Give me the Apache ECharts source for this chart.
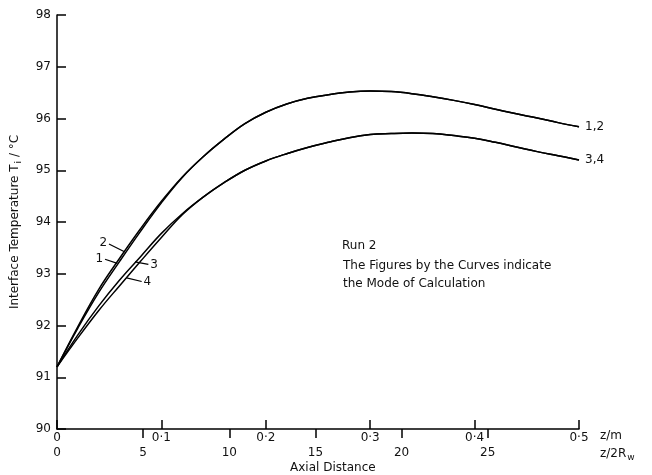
<!DOCTYPE html>
<html>
<head>
<meta charset="utf-8">
<script src="https://cdn.jsdelivr.net/npm/echarts@6/dist/echarts.min.js"></script>
<style>
  html, body { margin: 0; padding: 0; background: #fff; }
  #chart { width: 652px; height: 475px; }
</style>
</head>
<body>
<div id="chart"></div>
<script>
// Axial position along the tube, z / m
const zGrid = [0, 0.02, 0.04, 0.06, 0.08, 0.10, 0.12, 0.14, 0.16, 0.18, 0.20, 0.22, 0.24,
               0.26, 0.28, 0.30, 0.32, 0.34, 0.36, 0.38, 0.40, 0.42, 0.44, 0.46, 0.48, 0.50];

// Interface temperature T_i / °C for each mode of calculation (Run 2)
const tempMode1 = [91.2, 91.95, 92.64, 93.24, 93.82, 94.37, 94.86, 95.26, 95.60, 95.90, 96.12, 96.28, 96.39,
                   96.46, 96.51, 96.53, 96.52, 96.48, 96.42, 96.35, 96.27, 96.18, 96.09, 96.01, 95.92, 95.84];
const tempMode2 = [91.2, 91.98, 92.70, 93.30, 93.87, 94.40, 94.87, 95.26, 95.60, 95.90, 96.12, 96.28, 96.39,
                   96.46, 96.51, 96.53, 96.52, 96.48, 96.42, 96.35, 96.27, 96.18, 96.09, 96.01, 95.92, 95.84];
const tempMode3 = [91.2, 91.82, 92.38, 92.88, 93.33, 93.78, 94.16, 94.48, 94.76, 95.00, 95.18, 95.32, 95.44,
                   95.54, 95.63, 95.69, 95.71, 95.72, 95.71, 95.67, 95.62, 95.54, 95.45, 95.36, 95.28, 95.20];
const tempMode4 = [91.2, 91.76, 92.29, 92.77, 93.24, 93.70, 94.14, 94.48, 94.76, 95.00, 95.18, 95.32, 95.44,
                   95.54, 95.63, 95.69, 95.71, 95.72, 95.71, 95.67, 95.62, 95.54, 95.45, 95.36, 95.28, 95.20];

// Tube diameter 2R_w / m, used for the dimensionless axis z / 2R_w
const tubeDiameter = 0.0165;
const zMax = 0.5;
const yTicks = [90, 91, 92, 93, 94, 95, 96, 97, 98];
const zRelTicks = [0, 5, 10, 15, 20, 25];

// Leader lines (start, end) for the curve numbers, in axis units
const leader1 = [[0.046, 93.28], [0.0578, 93.20]];
const leader2 = [[0.0498, 93.575], [0.0651, 93.42]];
const leader3 = [[0.0747, 93.23], [0.0875, 93.18]];
const leader4 = [[0.0667, 92.92], [0.0811, 92.85]];

const FONT = 'DejaVu Sans';
const INK = '#111';

function pairs(values) {
  return zGrid.map((z, i) => [z, values[i]]);
}

function leaderLine(seg, text, at) {
  return {
    silent: true,
    symbol: ['none', 'none'],
    lineStyle: { color: '#000', width: 1.2, type: 'solid' },
    label: { show: true, position: at, formatter: text, color: INK, fontFamily: FONT, fontSize: 12, distance: 2 },
    data: [[{ coord: seg[0] }, { coord: seg[1] }]]
  };
}

function curve(name, values, extra) {
  return Object.assign({
    name: name,
    type: 'line',
    xAxisIndex: 0,
    yAxisIndex: 0,
    data: pairs(values),
    smooth: 0.4,
    showSymbol: false,
    symbol: 'none',
    lineStyle: { color: '#000', width: 1.5 },
    z: 3
  }, extra || {});
}

const chart = echarts.init(document.getElementById('chart'), null, { renderer: 'canvas' });

chart.setOption({
  animation: false,
  backgroundColor: '#fff',
  textStyle: { fontFamily: FONT },
  grid: { left: 57, right: 73, top: 15, bottom: 46 },
  xAxis: [
    {
      type: 'value',
      position: 'bottom',
      min: 0,
      max: zMax,
      interval: 0.1,
      axisLine: { show: true, lineStyle: { color: '#000', width: 1.5 } },
      axisTick: { show: true, inside: true, length: 9, lineStyle: { color: '#000', width: 1.5 } },
      axisLabel: {
        margin: 3, color: INK, fontFamily: FONT, fontSize: 12,
        formatter: v => (v === 0 ? '0' : v.toFixed(1).replace('.', '·'))
      },
      splitLine: { show: false },
      name: 'z/m',
      nameLocation: 'end',
      nameGap: 21,
      nameTextStyle: { color: INK, fontFamily: FONT, fontSize: 12, align: 'left', verticalAlign: 'top', padding: [1, 0, 0, 0] }
    },
    {
      type: 'value',
      position: 'bottom',
      offset: 0,
      min: 0,
      max: zMax / tubeDiameter,
      axisLine: { show: false },
      axisTick: { show: true, inside: false, length: 9, customValues: zRelTicks.slice(1),
                  lineStyle: { color: '#000', width: 1.5 } },
      axisLabel: { margin: 18, customValues: zRelTicks, color: INK, fontFamily: FONT, fontSize: 12 },
      splitLine: { show: false },
      name: 'z/2R{s|w}',
      nameLocation: 'end',
      nameGap: 21,
      nameTextStyle: {
        color: INK, fontFamily: FONT, fontSize: 12, align: 'left', verticalAlign: 'top', padding: [17, 0, 0, 0],
        rich: { s: { fontFamily: FONT, fontSize: 9, color: INK, padding: [7, 0, 0, 1] } }
      }
    }
  ],
  yAxis: {
    type: 'value',
    min: yTicks[0],
    max: yTicks[yTicks.length - 1],
    interval: 1,
    axisLine: { show: true, lineStyle: { color: '#000', width: 1.5 } },
    axisTick: { show: true, inside: true, length: 9, lineStyle: { color: '#000', width: 1.5 } },
    axisLabel: { margin: 6, color: INK, fontFamily: FONT, fontSize: 12 },
    splitLine: { show: false },
    name: 'Interface Temperature T{s|i} / °C',
    nameLocation: 'middle',
    nameRotate: 90,
    nameGap: 34,
    nameTextStyle: {
      color: INK, fontFamily: FONT, fontSize: 12,
      rich: { s: { fontFamily: FONT, fontSize: 9, color: INK, padding: [7, 0, 0, 1] } }
    }
  },
  graphic: [
    { type: 'text', left: 342, top: 240, style: { text: 'Run 2', font: '12px "DejaVu Sans"', fill: INK } },
    { type: 'text', left: 343, top: 260, style: { text: 'The Figures by the Curves indicate', font: '12px "DejaVu Sans"', fill: INK } },
    { type: 'text', left: 343, top: 278, style: { text: 'the Mode of Calculation', font: '12px "DejaVu Sans"', fill: INK } },
    { type: 'text', left: 290, top: 462, style: { text: 'Axial Distance', font: '12px "DejaVu Sans"', fill: INK } }
  ],
  series: [
    curve('1', tempMode1, {
      endLabel: { show: true, formatter: '1,2', distance: 6, color: INK, fontFamily: FONT, fontSize: 12 },
      markLine: leaderLine(leader1, '1', 'start')
    }),
    curve('2', tempMode2, { markLine: leaderLine(leader2, '2', 'start') }),
    curve('3', tempMode3, {
      endLabel: { show: true, formatter: '3,4', distance: 6, color: INK, fontFamily: FONT, fontSize: 12 },
      markLine: leaderLine(leader3, '3', 'end')
    }),
    curve('4', tempMode4, { markLine: leaderLine(leader4, '4', 'end') })
  ]
});
</script>
</body>
</html>
